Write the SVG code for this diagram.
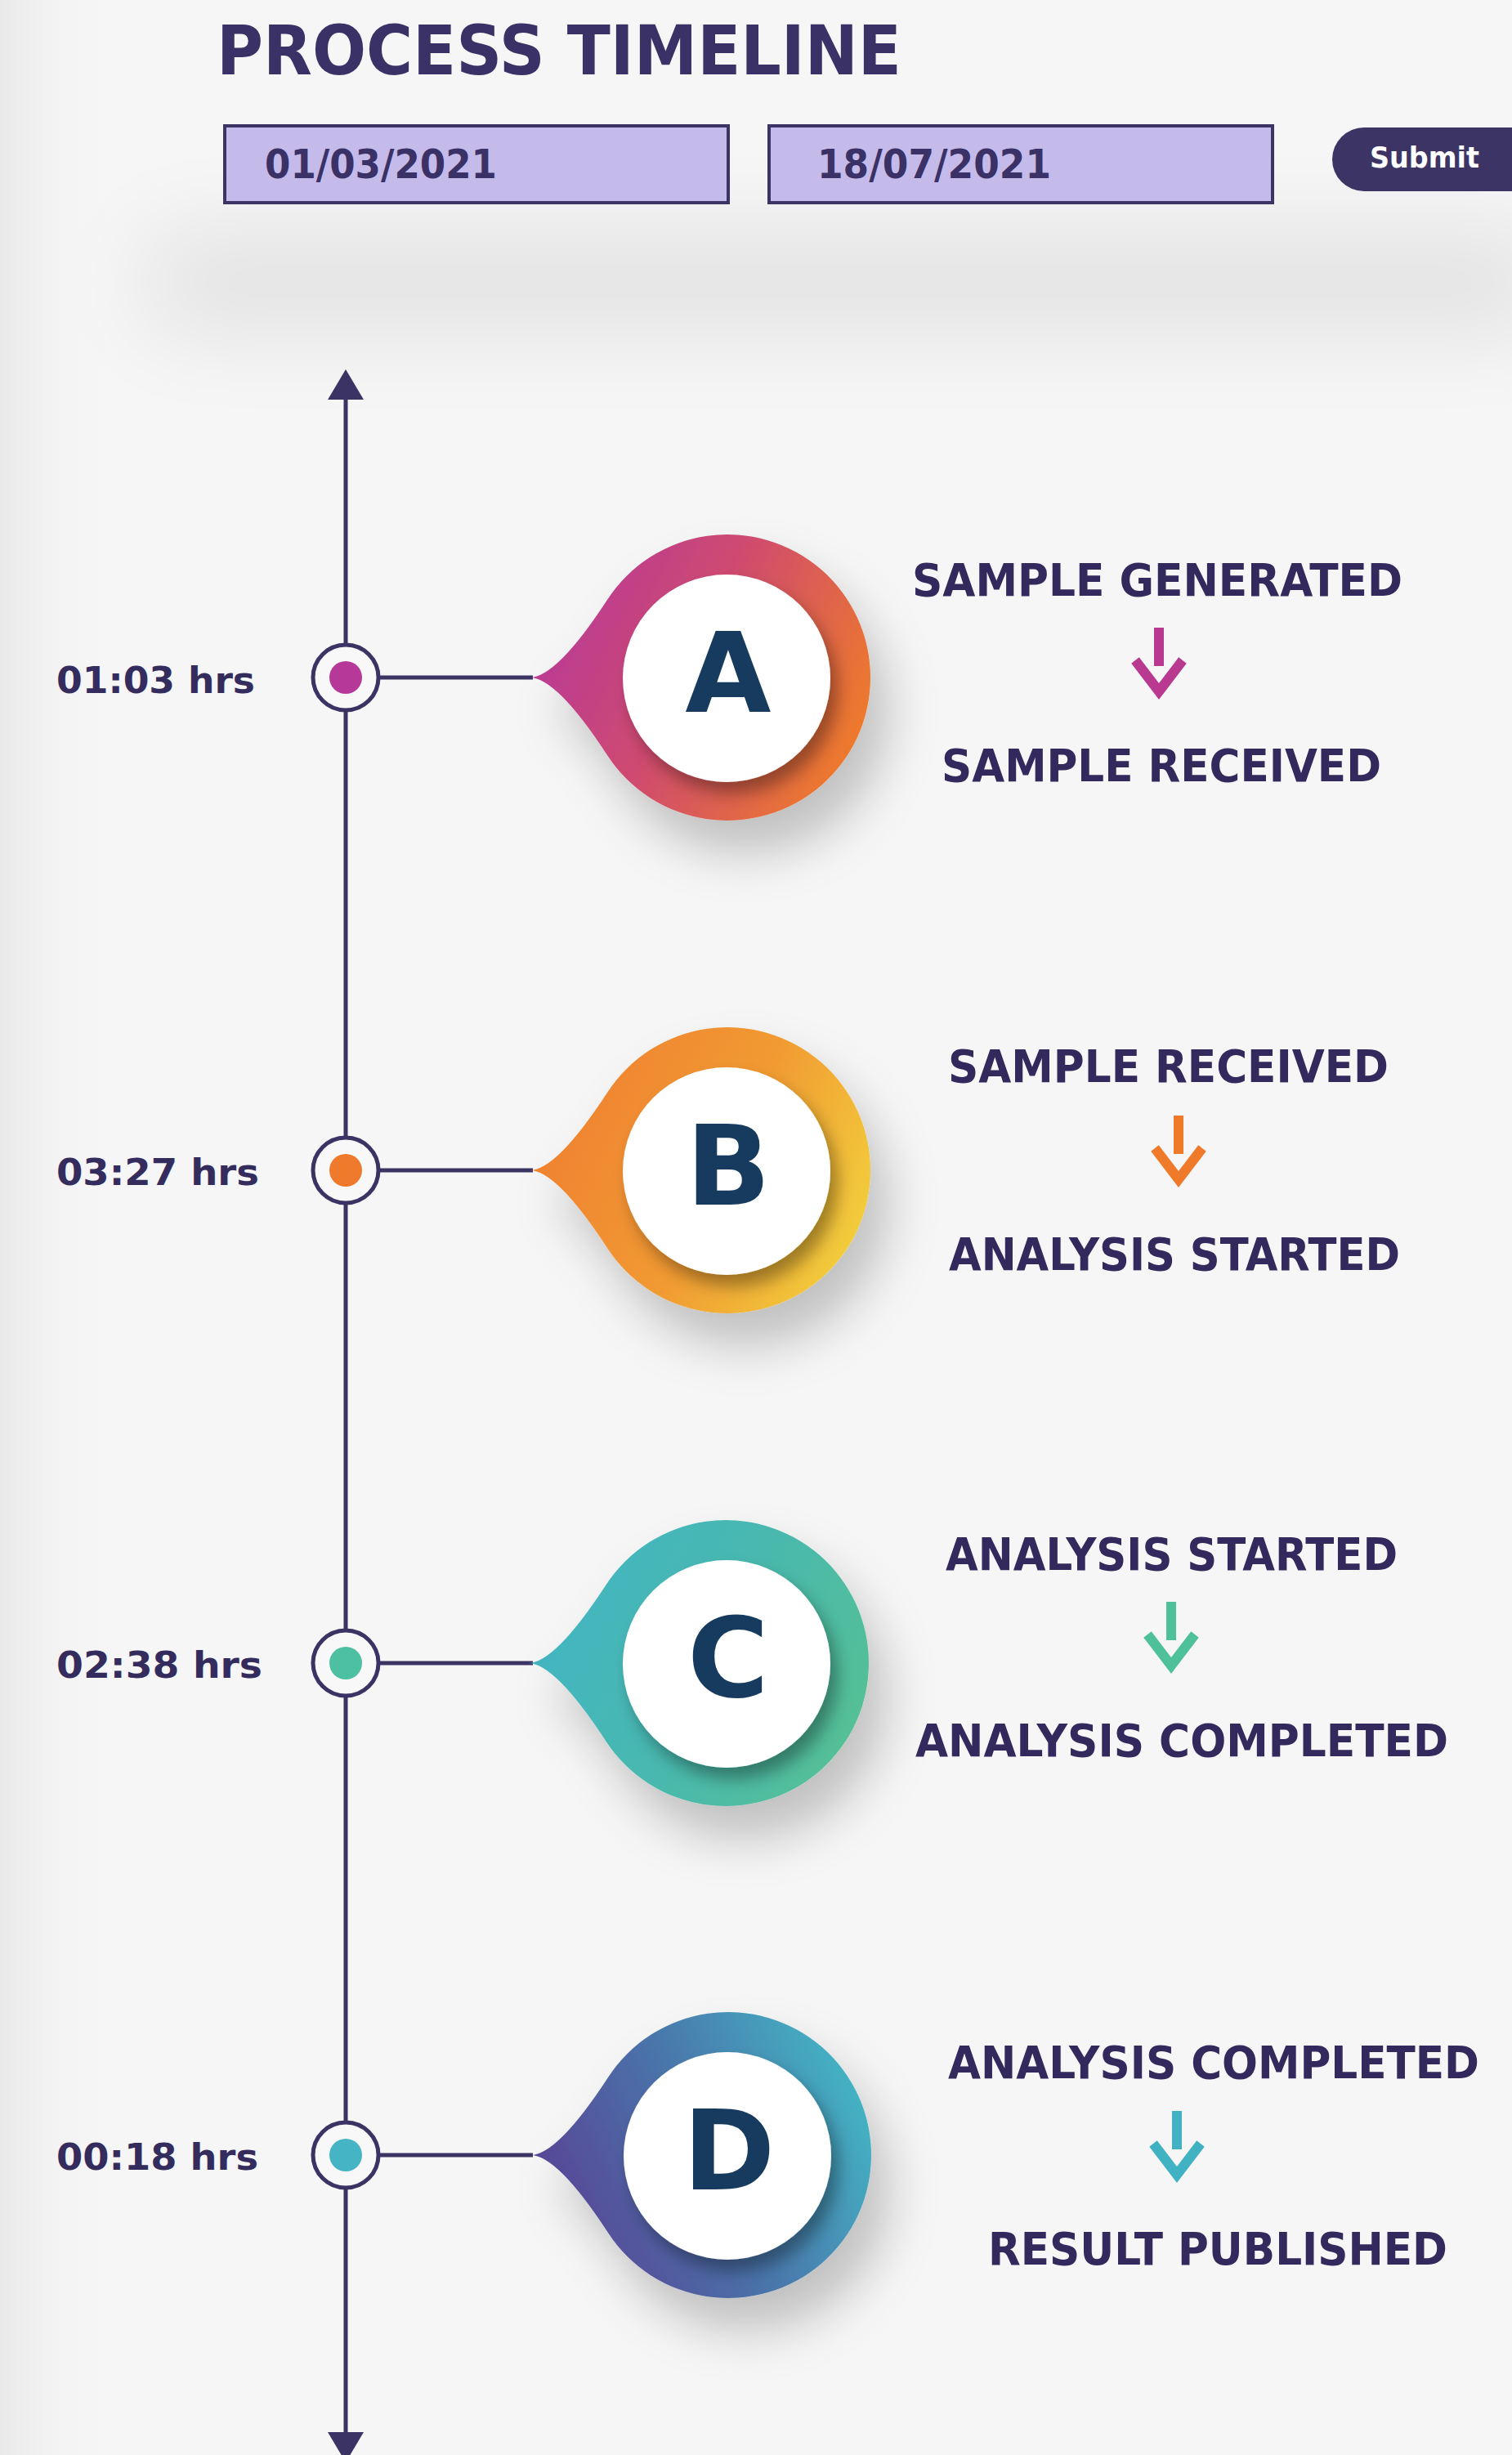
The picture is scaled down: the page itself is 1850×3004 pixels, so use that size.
<svg xmlns="http://www.w3.org/2000/svg" xmlns:xlink="http://www.w3.org/1999/xlink" width="1850" height="3004" viewBox="0 0 1850 3004">
  <defs>
    <style>
      .ttl { font-family: "DejaVu Sans", "Liberation Sans", sans-serif; font-weight: bold; fill: #3a3166; }
      .date { font-family: "DejaVu Sans", "Liberation Sans", sans-serif; font-weight: bold; font-size: 50px; fill: #3a3166; }
      .btn { font-family: "DejaVu Sans", "Liberation Sans", sans-serif; font-weight: bold; font-size: 36px; fill: #ffffff; }
      .time { font-family: "DejaVu Sans", "Liberation Sans", sans-serif; font-weight: bold; font-size: 44px; fill: #352c5e; }
      .step { font-family: "DejaVu Sans", "Liberation Sans", sans-serif; font-weight: bold; font-size: 56px; fill: #34295c; }
      .letter { font-family: "DejaVu Sans", "Liberation Sans", sans-serif; font-weight: bold; font-size: 136px; fill: #173b5f; text-anchor: middle; }
      .axis { stroke: #3b3363; stroke-width: 5; fill: none; }
      .ring { stroke: #3b3363; stroke-width: 5; fill: #f8f8f8; }
      .inbox { fill: #c5bbea; stroke: #3d3466; stroke-width: 4; }
    </style>
    <marker id="axisHead" viewBox="0 0 37 44" refX="0" refY="22" markerWidth="37" markerHeight="44" markerUnits="userSpaceOnUse" orient="auto-start-reverse">
      <path d="M0,0 L37,22 L0,44 Z" fill="#3b3363"/>
    </marker>
    <linearGradient id="gA" x1="0" y1="0.3" x2="1" y2="0.7">
      <stop offset="0" stop-color="#b6399a"/>
      <stop offset="0.45" stop-color="#cf4a70"/>
      <stop offset="1" stop-color="#ef7c28"/>
    </linearGradient>
    <linearGradient id="gB" x1="0" y1="0.3" x2="1" y2="0.7">
      <stop offset="0" stop-color="#ef7f2f"/>
      <stop offset="0.55" stop-color="#f19a32"/>
      <stop offset="1" stop-color="#f2cf3c"/>
    </linearGradient>
    <linearGradient id="gC" x1="0" y1="0.3" x2="1" y2="0.7">
      <stop offset="0" stop-color="#42b5c3"/>
      <stop offset="0.5" stop-color="#48b8b0"/>
      <stop offset="1" stop-color="#55c095"/>
    </linearGradient>
    <linearGradient id="gD" x1="0" y1="0.7" x2="1" y2="0.3">
      <stop offset="0" stop-color="#5a3f93"/>
      <stop offset="0.5" stop-color="#4a73aa"/>
      <stop offset="1" stop-color="#43b5c4"/>
    </linearGradient>
    <linearGradient id="leftEdge" x1="0" y1="0" x2="1" y2="0">
      <stop offset="0" stop-color="#e9e9e9"/>
      <stop offset="1" stop-color="#f6f6f6" stop-opacity="0"/>
    </linearGradient>
    <filter id="dropShadow" x="-50%" y="-50%" width="220%" height="220%">
      <feDropShadow dx="22" dy="40" stdDeviation="30" flood-color="#000000" flood-opacity="0.22"/>
    </filter>
    <filter id="innerShadow" x="-30%" y="-30%" width="170%" height="170%">
      <feDropShadow dx="9" dy="14" stdDeviation="10" flood-color="#000000" flood-opacity="0.35"/>
    </filter>
    <filter id="soft" x="-20%" y="-150%" width="140%" height="400%">
      <feGaussianBlur stdDeviation="60"/>
    </filter>
    <path id="drop" d="M-242,0 Q-209,0 -147,-95 A175,175 0 1 1 -147,95 Q-209,0 -242,0 Z"/>
    <g id="flowArrow" fill="none" stroke="currentColor" stroke-width="12" stroke-linejoin="miter" stroke-miterlimit="10">
      <line x1="0" y1="0" x2="0" y2="47"/>
      <polyline points="-29,40 0,78 29,40"/>
    </g>
  </defs>

  <!-- background -->
  <rect x="0" y="0" width="1850" height="3004" fill="#f6f6f6"/>
  <rect x="0" y="0" width="140" height="3004" fill="url(#leftEdge)"/>
  <rect x="180" y="290" width="1720" height="110" fill="#000000" opacity="0.09" filter="url(#soft)"/>

  <!-- header -->
  <g id="header">
    <text class="ttl" x="265" y="91" font-size="84" textLength="838" lengthAdjust="spacingAndGlyphs">PROCESS TIMELINE</text>
    <g id="date-from">
      <rect class="inbox" x="275" y="154" width="616" height="94"/>
      <text class="date" x="324" y="218" textLength="284" lengthAdjust="spacingAndGlyphs">01/03/2021</text>
    </g>
    <g id="date-to">
      <rect class="inbox" x="941" y="154" width="616" height="94"/>
      <text class="date" x="1000" y="218" textLength="286" lengthAdjust="spacingAndGlyphs">18/07/2021</text>
    </g>
    <g id="submit">
      <rect x="1630" y="156" width="260" height="78" rx="39" fill="#3d3466"/>
      <text class="btn" x="1676" y="205" textLength="134" lengthAdjust="spacingAndGlyphs">Submit</text>
    </g>
  </g>

  <!-- connectors -->
  <g id="connectors">
    <line class="axis" x1="423" y1="489" x2="423" y2="2976" marker-start="url(#axisHead)" marker-end="url(#axisHead)"/>
    <line class="axis" x1="463" y1="829" x2="652" y2="829"/>
    <line class="axis" x1="463" y1="1432" x2="652" y2="1432"/>
    <line class="axis" x1="463" y1="2035" x2="652" y2="2035"/>
    <line class="axis" x1="463" y1="2637" x2="652" y2="2637"/>
  </g>

  <!-- Node A -->
  <g id="node-a">
    <text class="time" x="69" y="848" textLength="243" lengthAdjust="spacingAndGlyphs">01:03 hrs</text>
    <circle class="ring" cx="423" cy="829" r="40"/>
    <circle cx="423" cy="829" r="20" fill="#b6399a"/>
    <use xlink:href="#drop" href="#drop" transform="translate(890,829)" fill="url(#gA)" filter="url(#dropShadow)"/>
    <circle cx="889" cy="830" r="127" fill="#ffffff" filter="url(#innerShadow)"/>
    <text class="letter" x="891" y="871">A</text>
    <text class="step" x="1116" y="729" textLength="600" lengthAdjust="spacingAndGlyphs">SAMPLE GENERATED</text>
    <use xlink:href="#flowArrow" href="#flowArrow" x="1418" y="768" style="color:#b8398f"/>
    <text class="step" x="1152" y="956" textLength="538" lengthAdjust="spacingAndGlyphs">SAMPLE RECEIVED</text>
  </g>

  <!-- Node B -->
  <g id="node-b">
    <text class="time" x="69" y="1450" textLength="248" lengthAdjust="spacingAndGlyphs">03:27 hrs</text>
    <circle class="ring" cx="423" cy="1432" r="40"/>
    <circle cx="423" cy="1432" r="20" fill="#ef7a2c"/>
    <use xlink:href="#drop" href="#drop" transform="translate(890,1432)" fill="url(#gB)" filter="url(#dropShadow)"/>
    <circle cx="889" cy="1433" r="127" fill="#ffffff" filter="url(#innerShadow)"/>
    <text class="letter" x="891" y="1474">B</text>
    <text class="step" x="1160" y="1324" textLength="539" lengthAdjust="spacingAndGlyphs">SAMPLE RECEIVED</text>
    <use xlink:href="#flowArrow" href="#flowArrow" x="1442" y="1365" style="color:#ee7a2a"/>
    <text class="step" x="1161" y="1554" textLength="552" lengthAdjust="spacingAndGlyphs">ANALYSIS STARTED</text>
  </g>

  <!-- Node C -->
  <g id="node-c">
    <text class="time" x="69" y="2053" textLength="252" lengthAdjust="spacingAndGlyphs">02:38 hrs</text>
    <circle class="ring" cx="423" cy="2035" r="40"/>
    <circle cx="423" cy="2035" r="20" fill="#4cc0a0"/>
    <use xlink:href="#drop" href="#drop" transform="translate(888,2035)" fill="url(#gC)" filter="url(#dropShadow)"/>
    <circle cx="889" cy="2036" r="127" fill="#ffffff" filter="url(#innerShadow)"/>
    <text class="letter" x="891" y="2076">C</text>
    <text class="step" x="1157" y="1921" textLength="553" lengthAdjust="spacingAndGlyphs">ANALYSIS STARTED</text>
    <use xlink:href="#flowArrow" href="#flowArrow" x="1433" y="1960" style="color:#4fc19a"/>
    <text class="step" x="1120" y="2149" textLength="652" lengthAdjust="spacingAndGlyphs">ANALYSIS COMPLETED</text>
  </g>

  <!-- Node D -->
  <g id="node-d">
    <text class="time" x="69" y="2655" textLength="247" lengthAdjust="spacingAndGlyphs">00:18 hrs</text>
    <circle class="ring" cx="423" cy="2637" r="40"/>
    <circle cx="423" cy="2637" r="20" fill="#45b5c6"/>
    <use xlink:href="#drop" href="#drop" transform="translate(891,2637)" fill="url(#gD)" filter="url(#dropShadow)"/>
    <circle cx="890" cy="2638" r="127" fill="#ffffff" filter="url(#innerShadow)"/>
    <text class="letter" x="892" y="2679">D</text>
    <text class="step" x="1160" y="2543" textLength="650" lengthAdjust="spacingAndGlyphs">ANALYSIS COMPLETED</text>
    <use xlink:href="#flowArrow" href="#flowArrow" x="1440" y="2583" style="color:#40b2c4"/>
    <text class="step" x="1209" y="2771" textLength="562" lengthAdjust="spacingAndGlyphs">RESULT PUBLISHED</text>
  </g>
</svg>
